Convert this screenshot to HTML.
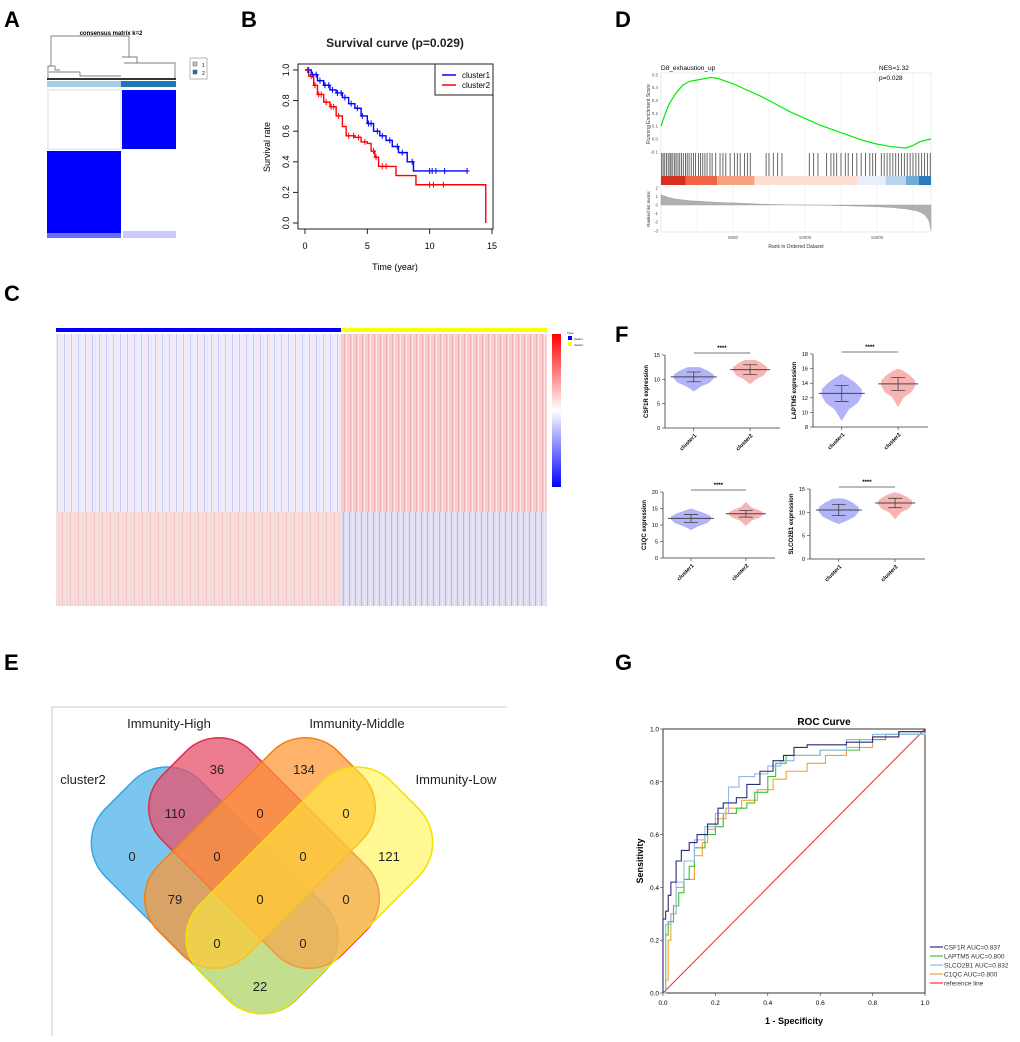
<!DOCTYPE html>
<html><head><meta charset="utf-8"><style>
html,body{margin:0;padding:0;background:#fff}
svg{display:block;font-family:"Liberation Sans",sans-serif}
</style></head><body>
<svg id="fig" width="1020" height="1042" viewBox="0 0 1020 1042" xmlns="http://www.w3.org/2000/svg">
<defs>
<pattern id="stripeB" width="7" height="10" patternUnits="userSpaceOnUse"><rect width="7" height="10" fill="#ececfb"/><rect x="1" width="1" height="10" fill="#c9c9f5"/><rect x="4" width="1" height="10" fill="#f6e4ea"/></pattern>
<pattern id="stripeR" width="6" height="10" patternUnits="userSpaceOnUse"><rect width="6" height="10" fill="#f7cdcd"/><rect x="2" width="1" height="10" fill="#f2b0b0"/><rect x="4" width="1" height="10" fill="#fbe6e6"/></pattern>
<pattern id="stripeR2" width="8" height="10" patternUnits="userSpaceOnUse"><rect width="8" height="10" fill="#f8dcdc"/><rect x="3" width="1" height="10" fill="#dcdcf4"/><rect x="6" width="1" height="10" fill="#f4c4c4"/></pattern>
<pattern id="stripeB2" width="6" height="10" patternUnits="userSpaceOnUse"><rect width="6" height="10" fill="#dedef7"/><rect x="1" width="1" height="10" fill="#b8b8f0"/><rect x="4" width="1" height="10" fill="#f0e6f0"/></pattern>
<linearGradient id="cbar" x1="0" y1="0" x2="0" y2="1"><stop offset="0" stop-color="#ff0000"/><stop offset="0.5" stop-color="#ffffff"/><stop offset="1" stop-color="#0000ff"/></linearGradient>
</defs>

<g font-weight="bold" font-size="22">
<text x="4" y="27">A</text>
<text x="241" y="27">B</text>
<text x="615" y="27">D</text>
<text x="4" y="301">C</text>
<text x="615" y="342">F</text>
<text x="4" y="670">E</text>
<text x="615" y="670">G</text>
</g>

<g>
<text x="111" y="35" font-size="6" font-weight="bold" text-anchor="middle">consensus matrix k=2</text>
<path d="M51,66 V36 H129 V57 M122,57 H137 V63 M124,63 H175 V79 M48,79 V66 H55 V70 H60 M49,72 H80 V76 H121" fill="none" stroke="#555" stroke-width="0.7"/>
<rect x="47" y="78" width="129" height="2" fill="#333"/>
<rect x="47" y="81" width="74" height="6" fill="#a6cee3"/>
<rect x="121" y="81" width="55" height="6" fill="#1f78b4"/>
<rect x="47" y="90" width="129" height="148" fill="#fff"/>
<rect x="48" y="90" width="73" height="59" fill="#fff" stroke="#dde" stroke-width="1"/>
<rect x="122" y="90" width="54" height="59" fill="#0000ff"/>
<rect x="47" y="151" width="74" height="82" fill="#0000ff"/>
<rect x="47" y="233" width="74" height="5" fill="#6b6bff"/>
<rect x="123" y="151" width="53" height="80" fill="#fff"/>
<rect x="123" y="231" width="53" height="7" fill="#c9c9ff"/>
<rect x="190" y="58" width="17" height="21" fill="#fff" stroke="#888" stroke-width="0.6"/>
<rect x="193" y="62" width="4" height="4" fill="#a6cee3" stroke="#333" stroke-width="0.4"/>
<rect x="193" y="70" width="4" height="4" fill="#1f78b4" stroke="#333" stroke-width="0.4"/>
<text x="202" y="67" font-size="5">1</text><text x="202" y="75" font-size="5">2</text>
</g>

<g id="km">
<text x="395" y="47" font-size="12" font-weight="bold" text-anchor="middle" fill="#222">Survival curve (p=0.029)</text>
<rect x="298" y="64" width="195" height="165" fill="none" stroke="#222" stroke-width="1"/>
<text x="395" y="270" font-size="9" text-anchor="middle">Time (year)</text>
<text transform="translate(270,147) rotate(-90)" font-size="9" text-anchor="middle">Survival rate</text>
<rect x="435" y="64" width="58" height="31" fill="#fff" stroke="#222" stroke-width="1"/>
<line x1="442" y1="75" x2="456" y2="75" stroke="#0000ff" stroke-width="1.5"/>
<text x="462" y="78" font-size="8">cluster1</text>
<line x1="442" y1="85" x2="456" y2="85" stroke="#ff0000" stroke-width="1.5"/>
<text x="462" y="88" font-size="8">cluster2</text>
</g>

<g id="gsea">
<text x="661" y="70" font-size="6.5">D8_exhaustion_up</text>
<text x="879" y="70" font-size="6.5">NES=1.32</text>
<text x="879" y="80" font-size="6.5">p=0.028</text>
<text transform="translate(650,114) rotate(-90)" font-size="5" text-anchor="middle" fill="#333">Running Enrichment Score</text>
<text transform="translate(650,209) rotate(-90)" font-size="4.5" text-anchor="middle" fill="#333">Ranked list metric</text>
<text x="796" y="248" font-size="5" text-anchor="middle" fill="#333">Rank in Ordered Dataset</text>
</g>

<g>
<rect x="56" y="328" width="285" height="4" fill="#0000ff"/>
<rect x="341" y="328" width="206" height="4" fill="#ffff00"/>
<rect x="56" y="334" width="285" height="178" fill="url(#stripeB)"/>
<rect x="341" y="334" width="206" height="178" fill="url(#stripeR)"/>
<rect x="56" y="512" width="285" height="94" fill="url(#stripeR2)"/>
<rect x="341" y="512" width="206" height="94" fill="url(#stripeB2)"/>
<rect x="552" y="334" width="9" height="153" fill="url(#cbar)"/>
<rect x="568" y="336" width="4" height="4" fill="#0000ff"/><rect x="568" y="342" width="4" height="4" fill="#ffff00"/>
<text x="567" y="334" font-size="3">Type</text>
<text x="574" y="340" font-size="2.5">cluster1</text><text x="574" y="346" font-size="2.5">cluster2</text>
</g>

<g id="dots"></g>

<g>
<path d="M52,1036 V707 H507" fill="none" stroke="#dcdcdc" stroke-width="1.5"/>
<g stroke-width="1.5">
<rect x="80" y="823" width="270" height="135" rx="48" transform="rotate(45 215 890)" fill="#4fb3ea" fill-opacity="0.75" stroke="#3aa6e4"/>
<rect x="137" y="790" width="254" height="126" rx="46" transform="rotate(45 264 853)" fill="#e8506c" fill-opacity="0.75" stroke="#d8304e"/>
<rect x="133" y="790" width="254" height="126" rx="46" transform="rotate(-45 260 853)" fill="#ff9630" fill-opacity="0.72" stroke="#f08010"/>
<rect x="174" y="823" width="270" height="135" rx="48" transform="rotate(-45 309 890)" fill="#fff23a" fill-opacity="0.55" stroke="#f5e000"/>
</g>
<g font-size="13" fill="#222" text-anchor="middle">
<text x="169" y="728">Immunity-High</text>
<text x="357" y="728">Immunity-Middle</text>
<text x="83" y="784">cluster2</text>
<text x="456" y="784">Immunity-Low</text>
<text x="217" y="774">36</text><text x="304" y="774">134</text>
<text x="175" y="818">110</text><text x="260" y="818">0</text><text x="346" y="818">0</text>
<text x="132" y="861">0</text><text x="217" y="861">0</text><text x="303" y="861">0</text><text x="389" y="861">121</text>
<text x="175" y="904">79</text><text x="260" y="904">0</text><text x="346" y="904">0</text>
<text x="217" y="948">0</text><text x="303" y="948">0</text>
<text x="260" y="991">22</text>
</g>
</g>

<g id="roc">
<text x="824" y="725" font-size="10" font-weight="bold" text-anchor="middle">ROC Curve</text>
<rect x="663" y="729" width="262" height="264" fill="none" stroke="#333" stroke-width="1"/>
<text x="794" y="1024" font-size="9" font-weight="bold" text-anchor="middle">1 - Specificity</text>
<text transform="translate(643,861) rotate(-90)" font-size="9" font-weight="bold" text-anchor="middle">Sensitivity</text>
</g>
</svg>
<script>
var NS='http://www.w3.org/2000/svg';
function mk(parent,tag,attrs){var e=document.createElementNS(NS,tag);for(var k in attrs)e.setAttribute(k,attrs[k]);parent.appendChild(e);return e;}

var kmC1Times=[0,0.5,1,1.5,2,2.5,3,3.5,4,4.5,5,5.5,6,6.5,7,7.5,8.2,8.7,13];
var kmC1Surv=[1,0.97,0.93,0.9,0.87,0.85,0.82,0.78,0.75,0.7,0.65,0.6,0.57,0.54,0.5,0.46,0.4,0.34,0.34];
var kmC2Times=[0,0.3,0.7,1,1.5,2,2.5,3,3.3,4,4.5,5,5.3,5.6,5.9,7.3,8.9,14.5];
var kmC2Surv=[1,0.96,0.9,0.84,0.79,0.76,0.7,0.63,0.57,0.56,0.53,0.52,0.47,0.43,0.37,0.31,0.25,0.25];
var kmC1Censor=[0.3,0.6,0.9,1.2,1.6,1.9,2.2,2.6,2.9,3.2,3.7,4.2,4.6,5.1,5.3,5.8,6.2,6.8,7.4,7.8,8.6,10,10.2,10.5,11.2,13];
var kmC2Censor=[0.2,0.5,0.8,1.1,1.3,1.7,2.1,2.3,2.7,3.5,3.9,4.3,4.8,5.5,5.7,6.2,6.5,10,10.3,11.1];
var kmXTicks=[0,5,10,15];
var kmYTicks=[0,0.2,0.4,0.6,0.8,1.0];
function kmX(t){return 305+t*(187/15);}
function kmY(s){return 223-s*153;}
(function(){
var g=document.getElementById('km');
kmXTicks.forEach(function(t){
 var l=mk(g,'line',{x1:kmX(t),x2:kmX(t),y1:229,y2:234,stroke:'#222'});
 
 
 var tx=mk(g,'text',{x:kmX(t),y:249,'font-size':9,'text-anchor':'middle'});tx.textContent=t;
 
 
});
mk(g,'line',{x1:kmX(0),x2:kmX(15),y1:229,y2:229,stroke:'#222'});
kmYTicks.forEach(function(v){
 var l=mk(g,'line',{x1:293,x2:298,y1:kmY(v),y2:kmY(v),stroke:'#222'});
 
 
 var tx=mk(g,'text',{transform:'translate(289,'+kmY(v)+') rotate(-90)','font-size':9,'text-anchor':'middle'});tx.textContent=v.toFixed(1);
 
 
});
function stepPath(T,S,end){var d='M'+kmX(T[0])+','+kmY(S[0]);for(var i=1;i<T.length;i++){d+=' H'+kmX(T[i])+' V'+kmY(S[i]);}if(end!==undefined)d+=' V'+kmY(end);return d;}
function survAt(T,S,t){var s=S[0];for(var i=0;i<T.length;i++){if(T[i]<=t)s=S[i];}return s;}
var p1=mk(g,'path',{d:stepPath(kmC1Times,kmC1Surv),fill:'none',stroke:'#0000ff','stroke-width':1.4});


var p2=mk(g,'path',{d:stepPath(kmC2Times,kmC2Surv,0),fill:'none',stroke:'#ff0000','stroke-width':1.4});


kmC1Censor.forEach(function(t){var y=kmY(survAt(kmC1Times,kmC1Surv,t)),x=kmX(t);
 var c=mk(g,'path',{d:'M'+(x-2.5)+','+y+'H'+(x+2.5)+'M'+x+','+(y-3)+'V'+(y+3),stroke:'#0000ff','stroke-width':1});
 
 });
kmC2Censor.forEach(function(t){var y=kmY(survAt(kmC2Times,kmC2Surv,t)),x=kmX(t);
 var c=mk(g,'path',{d:'M'+(x-2.5)+','+y+'H'+(x+2.5)+'M'+x+','+(y-3)+'V'+(y+3),stroke:'#ff0000','stroke-width':1});
 
 });
})();

var esRanks=[0,300,600,1000,1500,2000,2500,3000,3500,4000,5000,6000,7000,8000,9000,10000,11000,12000,13000,14000,15000,16000,17000,17500,18000,18750];
var esValues=[0.1,0.2,0.28,0.35,0.42,0.45,0.46,0.47,0.48,0.47,0.43,0.38,0.33,0.27,0.21,0.16,0.11,0.07,0.03,-0.01,-0.04,-0.06,-0.07,-0.05,-0.02,0.0];
var hitRanks=[50,150,260,380,500,620,700,820,950,1050,1180,1300,1420,1550,1700,1820,1950,2100,2250,2400,2600,2750,2900,3050,3200,3400,3550,3800,4100,4300,4500,4800,5100,5300,5500,5800,6000,6200,7300,7500,7800,8100,8400,10300,10600,10900,11500,11800,12000,12200,12500,12800,13000,13300,13600,13900,14200,14500,14700,14900,15300,15500,15700,15900,16100,16300,16500,16700,16900,17100,17300,17500,17700,17900,18100,18300,18500,18700];
var colorBins=[0,1700,3900,6500,13700,15600,17000,17900,18750];
var colorBinFills=['#d7301f','#ef6548','#fca082','#fde0d2','#e8eefa','#b9d4ea','#6aaed6','#2b7bba'];
var metricRanks=[0,500,1000,2000,3000,4000,5000,6000,7000,8800,11200,13000,15000,16000,17000,17800,18300,18600,18750];
var metricValues=[1.2,0.9,0.7,0.5,0.4,0.3,0.25,0.18,0.1,0.02,-0.02,-0.1,-0.2,-0.3,-0.45,-0.7,-1.1,-1.8,-3];
var esTicks=[-0.1,0,0.1,0.2,0.3,0.4,0.5];
var metricTicks=[-3,-2,-1,0,1,2];
var rankTicks=[5000,10000,15000];
function gX(r){return 661+r*(270/18750);}
function esY(v){return 139-v*128.3;}
function mY(v){return 205-v*8.6;}
(function(){
var g=document.getElementById('gsea');
[2500,7500,12500,17500,5000,10000,15000].forEach(function(r){mk(g,'line',{x1:gX(r),x2:gX(r),y1:73,y2:232,stroke:'#eee','stroke-width':0.6});});
mk(g,'rect',{x:661,y:73,width:270,height:159,fill:'none',stroke:'#ccc','stroke-width':0.4});
esTicks.forEach(function(v){var t=mk(g,'text',{x:658,y:esY(v)+1.5,'font-size':4.5,'text-anchor':'end',fill:'#555'});t.textContent=v.toFixed(1);
 
 });
metricTicks.forEach(function(v){var t=mk(g,'text',{x:658,y:mY(v)+1.5,'font-size':4.5,'text-anchor':'end',fill:'#555'});t.textContent=v;
 
 });
rankTicks.forEach(function(r){var t=mk(g,'text',{x:gX(r),y:239,'font-size':4.5,'text-anchor':'middle',fill:'#555'});t.textContent=r;
 
 });
var d='';esRanks.forEach(function(r,i){d+=(i?'L':'M')+gX(r)+','+esY(esValues[i]);});
var es=mk(g,'path',{d:d,fill:'none',stroke:'#00ee00','stroke-width':1.2});


hitRanks.forEach(function(r){var l=mk(g,'line',{x1:gX(r),x2:gX(r),y1:153,y2:176,stroke:'#222','stroke-width':0.9,'stroke-opacity':0.75});
 
 });
for(var i=0;i<colorBinFills.length;i++){var b=mk(g,'rect',{x:gX(colorBins[i]),y:176,width:gX(colorBins[i+1])-gX(colorBins[i]),height:9,fill:colorBinFills[i]});
 
 }
var a='M'+gX(0)+','+mY(0);metricRanks.forEach(function(r,i){a+='L'+gX(r)+','+mY(metricValues[i]);});a+='L'+gX(18750)+','+mY(0)+'Z';
var ar=mk(g,'path',{d:a,fill:'#b0b0b0',stroke:'#999','stroke-width':0.4});


})();

var genes=['CSF1R','LAPTM5','C1QC','SLCO2B1'];
var c1Mean=[10.5,12.6,12.0,10.5], c1Sd=[1.0,1.1,1.2,1.2], c1Min=[7.5,8.8,8.5,7.5], c1Max=[12.5,15.3,15.0,13.0];
var c2Mean=[12.0,13.9,13.4,12.0], c2Sd=[1.0,0.9,1.0,1.0], c2Min=[9.0,10.7,9.7,8.5], c2Max=[14.0,16.0,17.0,14.3];
var yMinArr=[0,8,0,0], yMaxArr=[15,18,20,15], yStepArr=[5,2,5,5];
var dotLayout=[{l:665,r:780,t:355,b:428},{l:813,r:928,t:354,b:427},{l:663,r:775,t:492,b:558},{l:810,r:925,t:489,b:559}];
(function(){
var g=document.getElementById('dots');
genes.forEach(function(gene,k){
 var L=dotLayout[k];
 function Y(v){return L.b-(v-yMinArr[k])/(yMaxArr[k]-yMinArr[k])*(L.b-L.t);}
 var x1=L.l+(L.r-L.l)*0.25,x2=L.l+(L.r-L.l)*0.74;
 mk(g,'line',{x1:L.l,x2:L.l,y1:L.t,y2:L.b,stroke:'#333','stroke-width':0.8});
 mk(g,'line',{x1:L.l,x2:L.r,y1:L.b,y2:L.b,stroke:'#333','stroke-width':0.8});
 for(var v=yMinArr[k];v<=yMaxArr[k];v+=yStepArr[k]){mk(g,'line',{x1:L.l-3,x2:L.l,y1:Y(v),y2:Y(v),stroke:'#333','stroke-width':0.6});
  var t=mk(g,'text',{x:L.l-5,y:Y(v)+2,'font-size':5.5,'text-anchor':'end'});t.textContent=v;
  
  }
 var yt=mk(g,'text',{transform:'translate('+(L.l-17)+','+((L.t+L.b)/2)+') rotate(-90)','font-size':6,'font-weight':'bold','text-anchor':'middle'});yt.textContent=gene+' expression';
 
 
 [[x1,'cluster1',c1Mean,c1Sd,c1Min,c1Max,'#8a8af5','#3b3bd0',40],[x2,'cluster2',c2Mean,c2Sd,c2Min,c2Max,'#f58a8a','#c43b3b',34]].forEach(function(s){
  var x=s[0],m=s[2][k],sd=s[3][k],mn=s[4][k],mx=s[5][k],w=s[8]/2;
  var cl=mk(g,'polygon',{points:[x+','+Y(mn),(x+w*0.35)+','+Y(m-2*sd),(x+w*0.8)+','+Y(m-sd*1.2),(x+w)+','+Y(m-sd*0.3),(x+w)+','+Y(m+sd*0.5),(x+w*0.7)+','+Y(m+sd*1.3),(x+w*0.3)+','+Y(m+2*sd),x+','+Y(mx),(x-w*0.3)+','+Y(m+2*sd),(x-w*0.7)+','+Y(m+sd*1.3),(x-w)+','+Y(m+sd*0.5),(x-w)+','+Y(m-sd*0.3),(x-w*0.8)+','+Y(m-sd*1.2),(x-w*0.35)+','+Y(m-2*sd)].join(' '),fill:s[6],'fill-opacity':0.65});
  
  
  mk(g,'line',{x1:x-w-3,x2:x+w+3,y1:Y(m),y2:Y(m),stroke:'#444','stroke-width':1});
  mk(g,'path',{d:'M'+x+','+Y(m-sd)+'V'+Y(m+sd)+'M'+(x-7)+','+Y(m-sd)+'H'+(x+7)+'M'+(x-7)+','+Y(m+sd)+'H'+(x+7),stroke:'#444','stroke-width':0.8,fill:'none'});
  mk(g,'line',{x1:x,x2:x,y1:L.b,y2:L.b+3,stroke:'#333','stroke-width':0.6});
  var xl=mk(g,'text',{transform:'translate('+(x+3)+','+(L.b+8)+') rotate(-45)','font-size':5.5,'font-weight':'bold','text-anchor':'end'});xl.textContent=s[1];
  
  
 });
 var sb=mk(g,'line',{x1:x1,x2:x2,y1:L.t-2,y2:L.t-2,stroke:'#777','stroke-width':1});
 
 
 var st=mk(g,'text',{x:(x1+x2)/2,y:L.t-5,'font-size':6,'font-weight':'bold','text-anchor':'middle'});st.textContent='****';
 
 
});
})();

var rocNames=['CSF1R AUC=0.837','LAPTM5 AUC=0.800','SLCO2B1 AUC=0.832','C1QC AUC=0.800','reference line'];
var rocColors=['#2b2b80','#3cc03c','#8fb8e8','#f5a030','#ff3030'];
var csf1rFpr=[0,0,0.01,0.02,0.03,0.05,0.07,0.1,0.13,0.17,0.21,0.23,0.28,0.32,0.37,0.42,0.46,0.5,0.55,0.65,0.7,0.8,0.9,1];
var csf1rTpr=[0,0.28,0.31,0.37,0.42,0.5,0.54,0.57,0.6,0.64,0.7,0.72,0.74,0.79,0.84,0.88,0.9,0.93,0.94,0.94,0.95,0.97,0.99,1];
var laptm5Fpr=[0,0.01,0.02,0.04,0.06,0.08,0.1,0.12,0.16,0.2,0.23,0.28,0.32,0.35,0.4,0.43,0.47,0.6,0.75,0.85,1];
var laptm5Tpr=[0,0.22,0.27,0.33,0.38,0.43,0.48,0.55,0.6,0.63,0.68,0.7,0.72,0.76,0.82,0.87,0.9,0.92,0.96,0.98,1];
var slcoFpr=[0,0.01,0.03,0.05,0.08,0.12,0.16,0.2,0.25,0.25,0.29,0.35,0.4,0.45,0.5,0.6,0.7,0.8,1];
var slcoTpr=[0,0.26,0.3,0.42,0.5,0.58,0.63,0.68,0.72,0.78,0.82,0.83,0.86,0.88,0.9,0.92,0.96,0.98,1];
var c1qcFpr=[0,0.01,0.02,0.03,0.05,0.08,0.12,0.15,0.17,0.2,0.24,0.3,0.36,0.42,0.47,0.55,0.62,0.7,0.8,0.9,1];
var c1qcTpr=[0,0.05,0.2,0.3,0.4,0.43,0.52,0.57,0.62,0.66,0.7,0.73,0.77,0.81,0.84,0.87,0.9,0.93,0.97,0.99,1];
var refFpr=[0,1], refTpr=[0,1];
var rocTicks=[0,0.2,0.4,0.6,0.8,1.0];
function rX(v){return 663+v*262;}
function rY(v){return 993-v*264;}
(function(){
var g=document.getElementById('roc');
rocTicks.forEach(function(v){
 mk(g,'line',{x1:rX(v),x2:rX(v),y1:993,y2:996,stroke:'#333','stroke-width':0.6});
 mk(g,'line',{x1:660,x2:663,y1:rY(v),y2:rY(v),stroke:'#333','stroke-width':0.6});
 var a=mk(g,'text',{x:rX(v),y:1005,'font-size':6.5,'text-anchor':'middle'});a.textContent=v.toFixed(1);
 
 
 var b=mk(g,'text',{x:659,y:rY(v)+2.5,'font-size':6.5,'text-anchor':'end'});b.textContent=v.toFixed(1);
 
 
});
var series=[[csf1rFpr,csf1rTpr],[laptm5Fpr,laptm5Tpr],[slcoFpr,slcoTpr],[c1qcFpr,c1qcTpr],[refFpr,refTpr]];
var order=[4,3,1,2,0];
order.forEach(function(i){var s=series[i],d='';
 s[0].forEach(function(f,j){if(j===0){d='M'+rX(f)+','+rY(s[1][j]);}else{d+='H'+rX(f)+'V'+rY(s[1][j]);}});
 if(i===4)d='M'+rX(s[0][0])+','+rY(s[1][0])+'L'+rX(s[0][1])+','+rY(s[1][1]);
 var p=mk(g,'path',{d:d,fill:'none',stroke:rocColors[i],'stroke-width':1.1});
 
 
});
rocNames.forEach(function(n,i){var y=947+i*9;
 mk(g,'line',{x1:930,x2:943,y1:y,y2:y,stroke:rocColors[i],'stroke-width':1.2});
 var t=mk(g,'text',{x:944,y:y+2.5,'font-size':6.5,fill:'#333'});t.textContent=n;
 
 
});
})();
</script>
</body></html>
